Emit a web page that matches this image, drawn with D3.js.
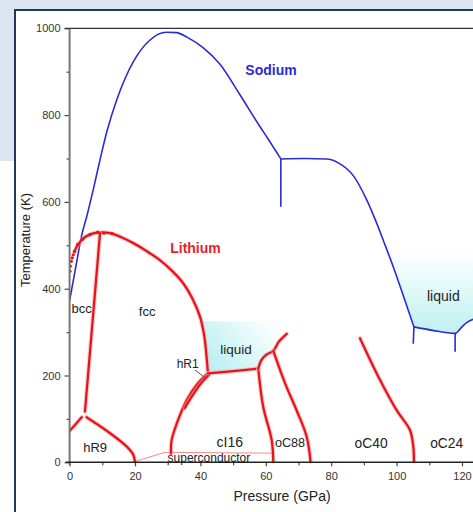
<!DOCTYPE html>
<html>
<head>
<meta charset="utf-8">
<script src="https://cdn.jsdelivr.net/npm/d3@7"></script>
<style>
  body { margin: 0; background: #fff; }
  svg text { font-family: "Liberation Sans", Arial, sans-serif; }
</style>
</head>
<body>
<svg id="chart" width="473" height="512"></svg>
<script>
// Sodium boundaries [pressure GPa, temperature K]
const naMelt = [[0,372],[2,455],[3.7,523],[5.3,568],[7.2,627],[9.3,697],[11.5,765],[14.4,835],[17,885],[19.5,923],[22,952],[24.6,973],[27,986],[29.7,991],[32.7,990],[36,979],[40.9,955],[46,917],[52,848],[58,776],[61.3,738],[64.6,699]];
const naPlateau = [[64.6,699],[72,700],[78.6,699],[82.2,690],[86.8,660],[90.9,604],[93.9,551],[96,510],[99,450],[102,385],[105.3,312]];
const naBottom = [[105.3,312],[111,304],[117.9,297],[120,312],[121.4,322],[124,331]];
const naVerts = [[[64.6,699],[64.6,589]], [[105.3,312],[105.1,273]], [[117.9,297],[117.9,255]]];
const naLiquid = [[97,482],[99,450],[102,385],[105.3,312],[111,304],[117.9,297],[120,312],[121.4,322],[124,331],[124,482]];

// Lithium boundaries
const liMelt = [[1.5,485],[2.2,497],[4.2,516],[6,524],[8.3,529],[12.4,528],[16,518],[19.5,505],[23.5,487],[27.6,466],[31.5,440],[34.8,412],[37.5,378],[39.9,335],[41.2,290],[41.8,250],[42.2,215],[42.3,205]];
const liDots = [[0.1,440],[0.2,452],[0.5,463],[0.8,471],[1.1,478],[1.5,486],[2.5,502],[4,514],[6.3,525],[8.6,530],[10.5,528],[13,527]];
const liBccFcc = [[9.3,528],[4.7,117]];
const liHR9a = [[0,72],[3.7,104]];
const liHR9b = [[5.2,104],[12.4,67],[17.5,36],[19.5,17],[20,0]];
const liFccCI16 = [[31,20],[31.2,51],[32.8,90],[35.8,143],[39,180],[42.3,205]];
const liHR1 = [[35.2,125],[37.4,152],[40.2,182],[42.9,204]];
const liLiqCI16 = [[42.3,205],[50,210],[57.7,216]];
const liCI16OC88 = [[57.7,216],[59.2,128],[61.8,51],[62.3,0]];
const liLiqUpper = [[57.7,216],[58.7,236],[60.2,248],[62.3,257],[64,278],[66.4,296]];
const liOC88OC40 = [[62.3,257],[65.9,182],[69.4,120],[72.5,59],[73.7,0]];
const liOC40OC24 = [[88.8,286],[94.9,190],[100,120],[104.1,74],[105.1,36],[105.3,0]];
const liSuper = [[20,2],[29.2,23],[62.3,21],[62.3,0]];
const liLiquid = [[40.6,325],[41.2,290],[41.8,250],[42.2,215],[42.3,205],[50,210],[57.7,216],[58.7,236],[60.2,248],[62.3,257],[64,278],[66.4,296],[66.4,325]];

// Ticks and labels
const xMajor = [0,20,40,60,80,100,120];
const xMinor = [10,30,50,70,90,110];
const yMajor = [0,200,400,600,800,1000];
const yMinor = [100,300,500,700,900];
const phaseLabels = [
  {t:'bcc', p:3.7, T:355, size:13},
  {t:'fcc', p:23.7, T:347, size:13},
  {t:'liquid', p:50.9, T:259, size:13.5},
  {t:'hR1', p:36.1, T:226, size:12},
  {t:'hR9', p:7.8, T:33, size:13},
  {t:'cI16', p:49, T:47, size:14},
  {t:'superconductor', p:42.6, T:9, size:12},
  {t:'oC88', p:67.4, T:44, size:12.6},
  {t:'oC40', p:92.2, T:44, size:13.8},
  {t:'oC24', p:115.3, T:44, size:13.8},
  {t:'liquid', p:114.3, T:383, size:14}
];
const hR1Leader = [[38.3,213],[41.7,193]];

const svg = d3.select('#chart');
const W = 473, H = 512;

// page frame
svg.append('rect').attr('x', 0).attr('y', 0).attr('width', W).attr('height', H).attr('fill', '#fff');
svg.append('rect').attr('x', 0).attr('y', 0).attr('width', W).attr('height', 10).attr('fill', '#dce6f1');
svg.append('rect').attr('x', 0).attr('y', 0).attr('width', 15).attr('height', 161).attr('fill', '#dce6f1');
svg.append('line').attr('x1', 15).attr('y1', 10).attr('x2', W).attr('y2', 10).attr('stroke', '#23375a').attr('stroke-width', 2);
svg.append('line').attr('x1', 15).attr('y1', 9).attr('x2', 15).attr('y2', H).attr('stroke', '#23375a').attr('stroke-width', 2);

const x = d3.scaleLinear().domain([0, 120]).range([69.6, 462]);
const y = d3.scaleLinear().domain([0, 1000]).range([462.3, 28.3]);

const defs = svg.append('defs');
defs.append('clipPath').attr('id', 'plot-clip')
  .append('rect').attr('x', x(0)).attr('y', y(1000)).attr('width', W - x(0)).attr('height', y(0) - y(1000) + 1);

const gLi = defs.append('linearGradient').attr('id', 'li-liq')
  .attr('gradientUnits', 'userSpaceOnUse')
  .attr('x1', x(42)).attr('y1', y(205)).attr('x2', x(62)).attr('y2', y(330));
gLi.append('stop').attr('offset', '0%').attr('stop-color', '#b4eef0');
gLi.append('stop').attr('offset', '100%').attr('stop-color', '#ffffff');

const gNa = defs.append('linearGradient').attr('id', 'na-liq')
  .attr('gradientUnits', 'userSpaceOnUse')
  .attr('x1', 0).attr('y1', y(300)).attr('x2', 0).attr('y2', y(485));
gNa.append('stop').attr('offset', '0%').attr('stop-color', '#bff0f0');
gNa.append('stop').attr('offset', '100%').attr('stop-color', '#ffffff');

const plot = svg.append('g').attr('clip-path', 'url(#plot-clip)');

const smooth = d3.line().x(d => x(d[0])).y(d => y(d[1])).curve(d3.curveCatmullRom.alpha(0.5));
const mono = d3.line().x(d => x(d[0])).y(d => y(d[1])).curve(d3.curveMonotoneX);
const straight = d3.line().x(d => x(d[0])).y(d => y(d[1]));

// liquid shading
plot.append('path').attr('d', straight(liLiquid) + 'Z').attr('fill', 'url(#li-liq)');
plot.append('path').attr('d', straight(naLiquid) + 'Z').attr('fill', 'url(#na-liq)');

// superconductor outline
plot.append('path').attr('d', straight(liSuper)).attr('fill', 'none')
  .attr('stroke', '#f28a8a').attr('stroke-width', 1);

// sodium
const blue = '#2b2bd4';
[naMelt, naPlateau, naBottom].forEach(pts => {
  plot.append('path').attr('d', mono(pts)).attr('fill', 'none')
    .attr('stroke', blue).attr('stroke-width', 1.6);
});
naVerts.forEach(pts => {
  plot.append('path').attr('d', straight(pts)).attr('fill', 'none')
    .attr('stroke', blue).attr('stroke-width', 1.6);
});

// lithium
const red = '#e8141c';
const redLines = [liMelt, liBccFcc, liHR9a, liHR9b, liFccCI16, liHR1, liLiqCI16, liCI16OC88, liLiqUpper, liOC88OC40, liOC40OC24];
redLines.forEach(pts => {
  const d = pts.length > 2 ? smooth(pts) : straight(pts);
  plot.append('path').attr('d', d).attr('fill', 'none')
    .attr('stroke', '#f6a5a5').attr('stroke-width', 4.5).attr('stroke-linecap', 'round').attr('opacity', 0.55);
  plot.append('path').attr('d', d).attr('fill', 'none')
    .attr('stroke', red).attr('stroke-width', 2.3).attr('stroke-linecap', 'round');
});
plot.selectAll('circle.li').data(liDots).enter().append('circle')
  .attr('cx', d => x(d[0])).attr('cy', d => y(d[1])).attr('r', 1.7).attr('fill', red);

// hR1 leader
svg.append('path').attr('d', straight(hR1Leader)).attr('stroke', '#555').attr('stroke-width', 1);

// axes
const axisColor = '#444';
const yAx = svg.append('g').attr('transform', `translate(${x(0)},0)`)
  .call(d3.axisLeft(y).tickValues(yMajor).tickSize(5).tickPadding(4).tickFormat(d3.format('d')));
const yAxMinor = svg.append('g').attr('transform', `translate(${x(0)},0)`)
  .call(d3.axisLeft(y).tickValues(yMinor).tickSize(3).tickFormat(''));
const xAx = svg.append('g').attr('transform', `translate(0,${y(0)})`)
  .call(d3.axisBottom(x).tickValues(xMajor).tickSize(4).tickPadding(6));
const xAxMinor = svg.append('g').attr('transform', `translate(0,${y(0)})`)
  .call(d3.axisBottom(x).tickValues(xMinor).tickSize(3).tickFormat(''));
[yAx, yAxMinor, xAx, xAxMinor].forEach(g => {
  g.select('.domain').remove();
  g.selectAll('line').attr('stroke', axisColor).attr('stroke-width', 1.2);
  g.selectAll('text').attr('fill', '#333').attr('font-size', 11)
    .attr('font-family', '"Liberation Sans", Arial, sans-serif');
});

svg.append('line').attr('x1', x(0)).attr('x2', x(0)).attr('y1', y(1000)).attr('y2', y(0) + 3)
  .attr('stroke', '#777').attr('stroke-width', 2);
svg.append('line').attr('x1', x(0) - 4).attr('x2', W).attr('y1', y(0)).attr('y2', y(0))
  .attr('stroke', '#222').attr('stroke-width', 1.5);
svg.append('line').attr('x1', x(0) - 5).attr('x2', W).attr('y1', y(1000)).attr('y2', y(1000))
  .attr('stroke', '#333').attr('stroke-width', 1.3);

// phase labels
svg.selectAll('text.phase').data(phaseLabels).enter().append('text')
  .attr('class', 'phase')
  .attr('x', d => x(d.p)).attr('y', d => y(d.T))
  .attr('text-anchor', 'middle').attr('dominant-baseline', 'central')
  .attr('font-size', d => d.size).attr('fill', '#222')
  .text(d => d.t);

svg.append('text').attr('x', x(61.6)).attr('y', y(904))
  .attr('text-anchor', 'middle').attr('dominant-baseline', 'central')
  .attr('font-size', 14).attr('font-weight', 'bold').attr('fill', '#2a2ad6').text('Sodium');
svg.append('text').attr('x', x(38.5)).attr('y', y(494))
  .attr('text-anchor', 'middle').attr('dominant-baseline', 'central')
  .attr('font-size', 14).attr('font-weight', 'bold').attr('fill', '#e8202a').text('Lithium');

// axis titles
svg.append('text').attr('x', 282).attr('y', 496)
  .attr('text-anchor', 'middle').attr('dominant-baseline', 'central')
  .attr('font-size', 14).attr('fill', '#222').text('Pressure (GPa)');
svg.append('text').attr('transform', 'translate(25,240) rotate(-90)')
  .attr('text-anchor', 'middle').attr('dominant-baseline', 'central')
  .attr('font-size', 13).attr('fill', '#222').text('Temperature (K)');
</script>
</body>
</html>
